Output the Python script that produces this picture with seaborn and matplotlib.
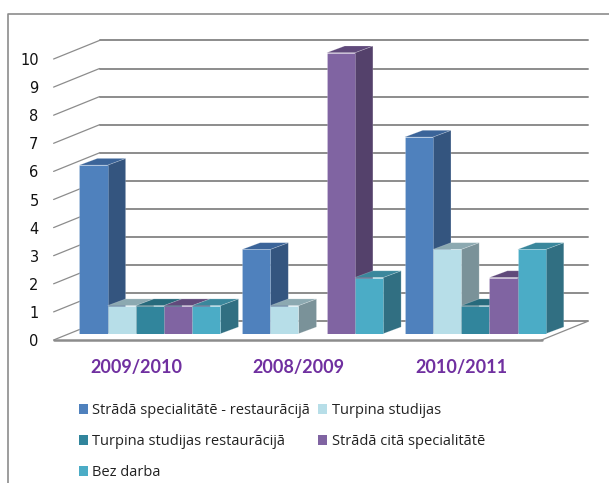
import matplotlib
matplotlib.use('Agg')
import matplotlib.pyplot as plt
import pandas as pd
import seaborn as sns
from matplotlib.lines import Line2D
from matplotlib.patches import Patch, Polygon
from matplotlib.transforms import ScaledTranslation

# Values
years = ['2009/2010', '2008/2009', '2010/2011']
series_names = [
    'Strādā specialitātē - restaurācijā',
    'Turpina studijas',
    'Turpina studijas restaurācijā',
    'Strādā citā specialitātē',
    'Bez darba',
]
strada_spec = [6, 3, 7]
turpina = [1, 1, 3]
turpina_rest = [1, 0, 1]
strada_cita = [1, 10, 2]
bez_darba = [1, 2, 3]
y_ticks = list(range(11))

front_colors = ['#4F81BD', '#B7DEE8', '#31859C', '#8064A2', '#4BACC6']
side_colors = ['#34557F', '#7A9299', '#235F6F', '#54416B', '#316F82']
top_colors = ['#3B6499', '#8CA9B1', '#276A7C', '#604A7B', '#3A879C']
grid_color = '#8C8C8C'

W, H = 609, 483
sns.set_theme(style='white')
plt.rcParams['font.family'] = ['Open Sans', 'DejaVu Sans']

df = pd.DataFrame({
    'year': years * 5,
    'series': [s for s in series_names for _ in years],
    'count': strada_spec + turpina + turpina_rest + strada_cita + bez_darba,
})

fig = plt.figure(figsize=(W / 100, H / 100), dpi=100)
# the axes box is the plane of the bar fronts
ax = fig.add_axes([68.6 / W, 1 - 333.7 / H, 488 / W, 281 / H])
ax.patch.set_alpha(0)
sns.barplot(data=df, x='year', y='count', hue='series', hue_order=series_names,
            palette=front_colors, saturation=1, width=0.867, gap=0,
            legend=False, ax=ax, zorder=3)
ax.set_xlim(-0.5, 2.5)
ax.set_ylim(0, 10)
ax.set_xlabel('')
ax.set_ylabel('')
sns.despine(ax=ax, left=True, bottom=True)

# pixel sizes converted to data units
px_x = 3 / 488
px_y = 10 / 281
bar_dx, bar_dy = 18 * px_x, 6.7 * px_y
front_dx, front_dy = -15 * px_x, -6.3 * px_y
back_dx, back_dy = 31 * px_x, 12.3 * px_y

# walls and floor, in perspective
for v in y_ticks:
    ax.plot([-0.5 + back_dx, 2.5 + back_dx], [v + back_dy] * 2, color=grid_color,
            lw=1.4, zorder=1, clip_on=False)
    ax.plot([-0.5 + front_dx, -0.5 + back_dx], [v + front_dy, v + back_dy], color=grid_color,
            lw=0.9, zorder=1, clip_on=False)
ax.plot([-0.5 + front_dx, 2.5 + front_dx], [front_dy, front_dy], color=grid_color,
        lw=1.8, zorder=1, clip_on=False)
ax.plot([2.5 + front_dx, 2.5 + back_dx], [front_dy, back_dy], color=grid_color,
        lw=0.9, zorder=1, clip_on=False)

# side and top faces come from each bar seaborn drew
for i, container in enumerate(ax.containers):
    for bar in container:
        h = bar.get_height()
        if h == 0:
            bar.set_visible(False)
            continue
        x0 = bar.get_x()
        x1 = x0 + bar.get_width()
        z = 3 + x0
        bar.set_zorder(z + 0.2)
        bar.set_edgecolor('#FFFFFF40')
        bar.set_linewidth(0.5)
        ax.add_patch(Polygon([(x1, 0), (x1 + bar_dx, bar_dy), (x1 + bar_dx, h + bar_dy), (x1, h)],
                             facecolor=side_colors[i], edgecolor='#FFFFFF40', lw=0.5,
                             zorder=z, clip_on=False))
        ax.add_patch(Polygon([(x0, h), (x1, h), (x1 + bar_dx, h + bar_dy), (x0 + bar_dx, h + bar_dy)],
                             facecolor=top_colors[i], edgecolor='#FFFFFF40', lw=0.5,
                             zorder=z + 0.1, clip_on=False))

# tick labels sit on the front edge of the walls
ax.set_yticks(y_ticks)
ax.tick_params(axis='both', length=0)
ax.tick_params(axis='y', pad=0, labelsize=10.5, labelcolor='#111111')
ax.tick_params(axis='x', pad=18)
for lab in ax.get_yticklabels():
    lab.set_fontfamily('DejaVu Sans')
    lab.set_transform(lab.get_transform() + ScaledTranslation(-30 / 100, -6.3 / 100, fig.dpi_scale_trans))
for lab in ax.get_xticklabels():
    lab.set_fontfamily('Lato')
    lab.set_fontweight('bold')
    lab.set_fontsize(13)
    lab.set_color('#7030A0')
    lab.set_transform(lab.get_transform() + ScaledTranslation(-14 / 100, 0, fig.dpi_scale_trans))

# chart frame, only top and left show in the crop
fig.add_artist(Line2D([8 / W, 8 / W, 1], [0, 1 - 13.5 / H, 1 - 13.5 / H], color='#8C8C8C', lw=1.2))

# matplotlib fills legend columns first, the picture reads row by row
order = [0, 2, 4, 1, 3]
handles = [Patch(facecolor=front_colors[i], edgecolor='none') for i in order]
labels = [series_names[i] for i in order]
fig.legend(handles, labels, ncol=2, frameon=False, loc='upper left',
           bbox_to_anchor=(79 / W, 1 - 403 / H), bbox_transform=fig.transFigure,
           fontsize=10.5, labelcolor='#222222', handlelength=0.62, handleheight=0.62,
           handletextpad=0.3, columnspacing=0.55, labelspacing=1.1, borderpad=0, borderaxespad=0)

fig.savefig('out.png', dpi=100)
